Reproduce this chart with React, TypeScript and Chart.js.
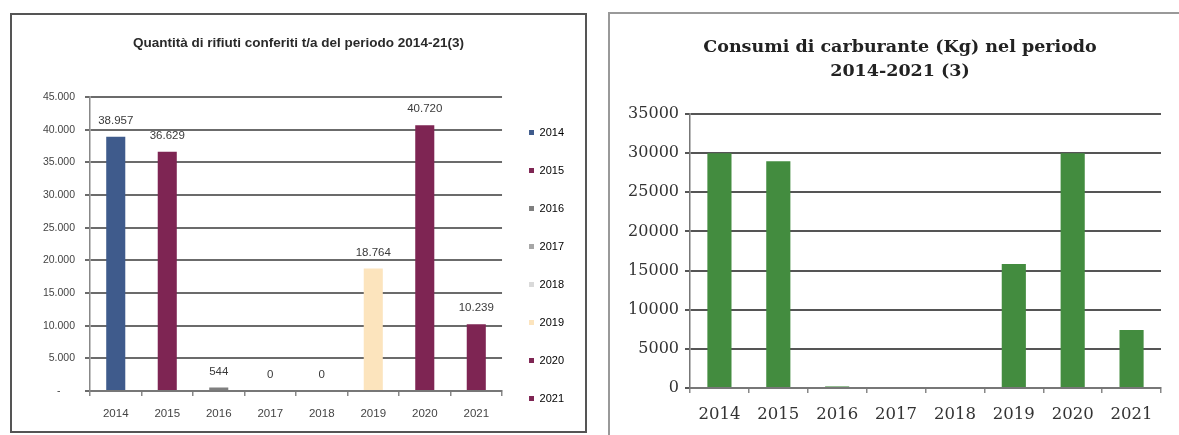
import React, { useEffect, useRef } from 'react';
import { Chart, registerables } from 'chart.js';

Chart.register(...registerables);

// ---------- data ----------
const categories = ['2014', '2015', '2016', '2017', '2018', '2019', '2020', '2021'];

// Left chart: Quantità di rifiuti conferiti t/a
const rifiutiValues = [38957, 36629, 544, 0, 0, 18764, 40720, 10239];
const rifiutiColors = ['#3F5B8C', '#7E2553', '#7F7F7F', '#A6A6A6', '#D9D9D9', '#FCE4BD', '#7E2553', '#7E2553'];
const rifiutiTitle = 'Quantità di rifiuti conferiti t/a del periodo 2014-21(3)';

// Right chart: Consumi di carburante (Kg)
const carburanteValues = [30000, 28950, 200, 0, 0, 15850, 30000, 7400];
const carburanteColor = '#438C3F';
const carburanteTitle = ['Consumi di carburante (Kg) nel periodo', '2014-2021 (3)'];

// ---------- helpers ----------
const dotThousands = (v: number) => String(Math.round(v)).replace(/\B(?=(\d{3})+(?!\d))/g, '.');

const sansFont = 'Liberation Sans, Arial, sans-serif';
const serifFont = 'DejaVu Serif, serif';

const valueLabelsPlugin = {
  id: 'valueLabels',
  afterDatasetsDraw(chart: any) {
    const ctx = chart.ctx;
    const meta = chart.getDatasetMeta(0);
    const data = chart.data.datasets[0].data as number[];
    ctx.save();
    ctx.font = `11.5px ${sansFont}`;
    ctx.fillStyle = '#3a3a3a';
    ctx.textAlign = 'center';
    ctx.textBaseline = 'middle';
    meta.data.forEach((el: any, i: number) => {
      ctx.fillText(dotThousands(data[i]), el.x, el.y - 16);
    });
    ctx.restore();
  },
};

// moves the title's centring box so the title is centred on the whole frame
const titleShiftPlugin = (shift: number) => ({
  id: 'titleShift',
  afterLayout(chart: any) {
    if (chart.titleBlock) chart.titleBlock.left += shift;
  },
});

function useChart(ref: React.RefObject<HTMLCanvasElement>, makeConfig: () => any) {
  useEffect(() => {
    if (!ref.current) return;
    const chart = new Chart(ref.current, makeConfig());
    return () => chart.destroy();
  }, []);
}

function RifiutiChart() {
  const ref = useRef<HTMLCanvasElement>(null);
  useChart(ref, () => ({
    type: 'bar',
    data: {
      labels: categories,
      datasets: [
        {
          data: rifiutiValues,
          backgroundColor: rifiutiColors,
          borderWidth: 0,
          barPercentage: 0.37,
          categoryPercentage: 1,
        },
      ],
    },
    options: {
      animation: false,
      responsive: false,
      maintainAspectRatio: false,
      layout: { padding: { left: 11, right: 11, top: 0, bottom: 0 } },
      plugins: {
        title: {
          display: true,
          text: rifiutiTitle,
          color: '#2a2a2a',
          font: { family: sansFont, size: 13.5, weight: 'bold' },
          padding: { top: 20, bottom: 46 },
        },
        legend: {
          position: 'right',
          align: 'end',
          labels: {
            boxWidth: 5,
            boxHeight: 5,
            padding: 27,
            color: '#555',
            font: { family: sansFont, size: 11 },
            generateLabels: () =>
              categories.map((c, i) => ({
                text: c,
                fillStyle: rifiutiColors[i],
                strokeStyle: rifiutiColors[i],
                lineWidth: 0,
                hidden: false,
                index: i,
                datasetIndex: 0,
              })),
          },
        },
        tooltip: { enabled: false },
      },
      scales: {
        x: {
          grid: { display: true, drawOnChartArea: false, drawTicks: true, tickLength: 5, color: '#888', lineWidth: 1.5, offset: true },
          border: { display: true, color: '#777', width: 2 },
          ticks: { color: '#444', font: { family: sansFont, size: 11.5 }, padding: 11 },
          afterFit: (s: any) => { s.height = 40; },
        },
        y: {
          min: 0,
          max: 45000,
          ticks: {
            stepSize: 5000,
            color: '#444',
            font: { family: sansFont, size: 10.5 },
            padding: 10,
            callback: (v: number) => (v === 0 ? '-     ' : dotThousands(v)),
          },
          grid: { color: '#6b6b6b', lineWidth: 2, tickLength: 5 },
          border: { display: true, color: '#888', width: 1.5 },
          afterFit: (s: any) => { s.width = 67; },
        },
      },
    },
    plugins: [valueLabelsPlugin],
  }));
  return <canvas ref={ref} width={573} height={416} style={{ display: 'block' }} />;
}

function CarburanteChart() {
  const ref = useRef<HTMLCanvasElement>(null);
  useChart(ref, () => ({
    type: 'bar',
    data: {
      labels: categories,
      datasets: [
        {
          data: carburanteValues,
          backgroundColor: carburanteColor,
          borderWidth: 0,
          barPercentage: 0.41,
          categoryPercentage: 1,
        },
      ],
    },
    options: {
      animation: false,
      responsive: false,
      maintainAspectRatio: false,
      layout: { padding: { left: 0, right: 18, top: 0, bottom: 0 } },
      plugins: {
        title: {
          display: true,
          text: carburanteTitle,
          color: '#222',
          font: { family: serifFont, size: 17.5, weight: 'bold', lineHeight: 1.4 },
          padding: { top: 21, bottom: 30 },
        },
        legend: { display: false },
        tooltip: { enabled: false },
      },
      scales: {
        x: {
          grid: { display: true, drawOnChartArea: false, drawTicks: true, tickLength: 5, color: '#888', lineWidth: 1.5, offset: true },
          border: { display: true, color: '#777', width: 2 },
          ticks: { color: '#333', font: { family: serifFont, size: 16.5 }, padding: 12 },
          afterFit: (s: any) => { s.height = 47; },
        },
        y: {
          min: 0,
          max: 35000,
          ticks: {
            stepSize: 5000,
            color: '#333',
            font: { family: serifFont, size: 16 },
            padding: 6,
            callback: (v: number) => String(v),
          },
          grid: { color: '#555', lineWidth: 2, tickLength: 5 },
          border: { display: true, color: '#777', width: 1.5 },
          afterFit: (s: any) => { s.width = 80; },
        },
      },
    },
    plugins: [titleShiftPlugin(29)],
  }));
  return <canvas ref={ref} width={569} height={421} style={{ display: 'block' }} />;
}

export default function App() {
  return (
    <div style={{ position: 'absolute', left: 0, top: 0, width: 1179, height: 435, overflow: 'hidden', background: '#fff' }}>
      <div style={{ position: 'absolute', left: 10, top: 13, width: 573, height: 416, border: '2px solid #555' }}>
        <RifiutiChart />
      </div>
      <div style={{ position: 'absolute', left: 608, top: 12, width: 580, height: 440, border: '2px solid #999' }}>
        <CarburanteChart />
      </div>
    </div>
  );
}
